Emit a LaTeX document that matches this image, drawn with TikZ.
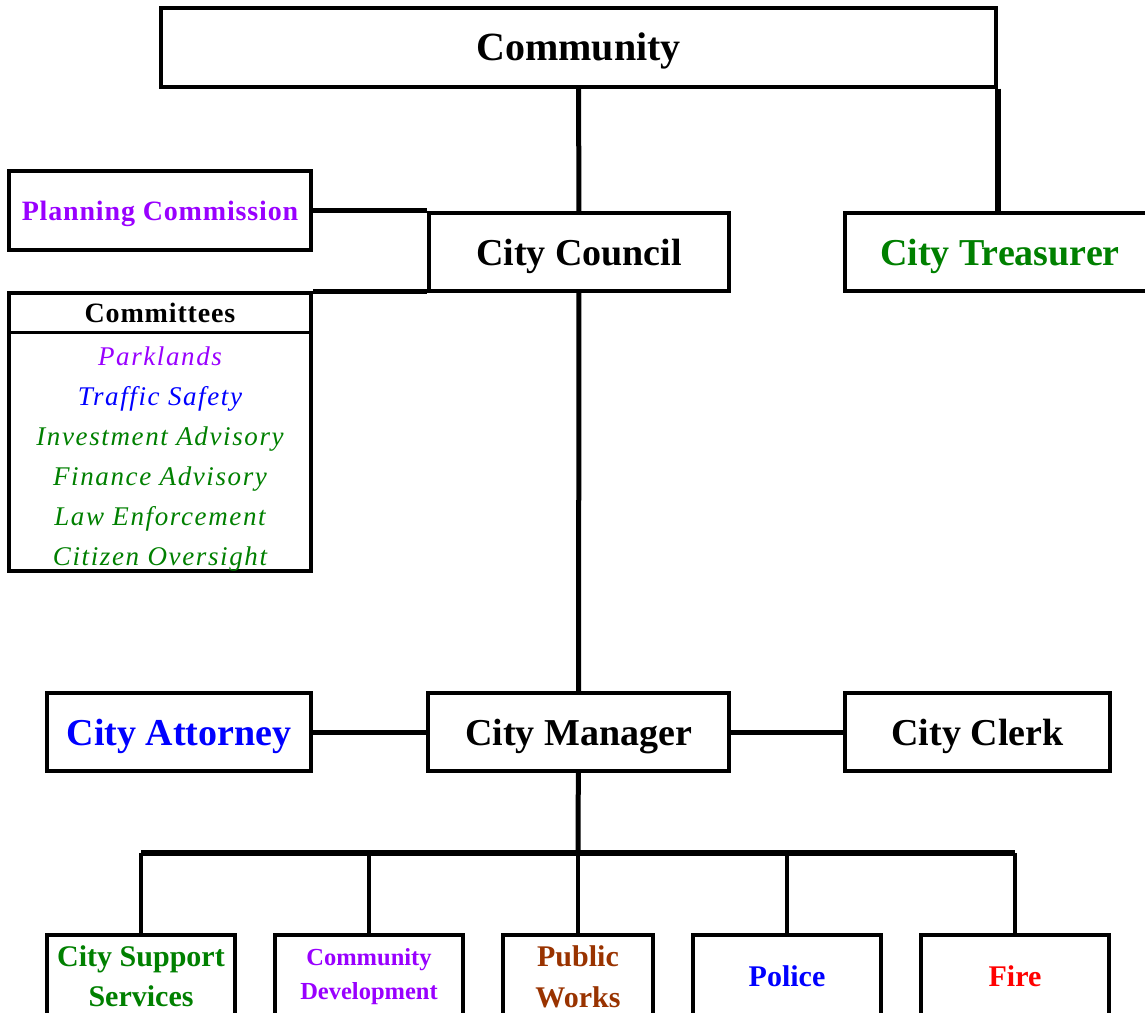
\documentclass[tikz,border=0pt]{standalone}
\usepackage{fontspec}
\setmainfont{Liberation Serif}
\usetikzlibrary{positioning}
\definecolor{grn}{RGB}{0,128,0}
\definecolor{purp}{RGB}{153,0,255}
\definecolor{blu}{RGB}{0,0,255}
\definecolor{brn}{RGB}{153,51,0}
\definecolor{redd}{RGB}{255,0,0}

\begin{document}
\begin{tikzpicture}[x=1pt, y=-1pt,
    box/.style={rectangle, draw=black, line width=4pt, fill=white, align=center,
                inner sep=0pt, font=\bfseries\fontsize{38}{40}\selectfont},
    top/.style={box, minimum height=78pt, text depth=0pt},
    low/.style={box, minimum width=188pt, minimum height=83pt,
                font=\bfseries\fontsize{30}{40}\selectfont},
    item/.style={text depth=0pt,
                 font=\itshape\fontsize{27}{30}\selectfont\addfontfeatures{LetterSpace=6}},
    link/.style={draw=black, line width=5pt}
]
\useasboundingbox (0,0) rectangle (1145,1012);

% top of the chart
\node[top, minimum width=835pt, minimum height=79pt,
      font=\bfseries\fontsize{40}{44}\selectfont] (comm) at (578.5,47) {Community};
\node[top, minimum width=300pt] (council) at (579,252) {City Council};
\node[top, minimum width=310pt, text=grn] (treas) at (1000,252) {City Treasurer};
\node[top, minimum width=302pt, minimum height=79pt,
      font=\bfseries\fontsize{28}{30}\selectfont\addfontfeatures{LetterSpace=3},
      text=purp] (plan) at (160,210.5) {Planning Commission};

% committees list
\node[box, minimum width=302pt, minimum height=278pt] (cmte) at (160,432) {};
\node[font=\bfseries\fontsize{28}{30}\selectfont\addfontfeatures{LetterSpace=3}]
    (cmtehead) at (160,313) {Committees};
\coordinate (div) at (160,332);
\draw[line width=3pt] (cmte.west |- div) -- (cmte.east |- div);
\foreach \txt/\col [count=\i] in {Parklands/purp, Traffic Safety/blu,
    Investment Advisory/grn, Finance Advisory/grn, Law Enforcement/grn,
    Citizen Oversight/grn}
  \node[item, text=\col] (item\i) at (160,316+40*\i) {\txt};

% manager row
\node[top, minimum width=301pt] (mgr) at (578.5,732) {City Manager};
\node[top, minimum width=264pt, text=blu] (atty) at (179,732) {City Attorney};
\node[top, minimum width=265pt] (clerk) at (977.5,732) {City Clerk};

% departments
\node[low, text=grn] (css) at (141,976.5) {City Support\\Services};
\node[low, text=purp, font=\bfseries\fontsize{24.5}{34}\selectfont]
    (cdev) at (369,976.5) {Community\\Development};
\node[low, minimum width=150pt, text=brn, font=\bfseries\fontsize{30}{41}\selectfont]
    (pworks) at (578,976.5) {Public\\Works};
\node[low, text=blu] (police) at (787,976.5) {Police};
\node[low, text=redd] (fire) at (1015,976.5) {Fire};

% connectors
\draw[link] (comm) -- (council);
\draw[link, line width=6pt] (comm.south east) -- (comm.south east |- treas.north);
\draw[link] (plan.east) -- (plan.east -| council.west);
\draw[link] (cmte.north east) -- (cmte.north east -| council.west);
\draw[link] (council) -- (mgr);
\draw[link] (atty) -- (mgr);
\draw[link] (mgr) -- (clerk);
\coordinate (bus) at (578,853);
\draw[link] (mgr) -- (bus);
\draw[link, line width=6pt] (css.north |- bus) -- (fire.north |- bus);
\foreach \n in {css, cdev, pworks, police, fire}
  \draw[link, line width=4pt] (\n.north |- bus) -- (\n.north);
\end{tikzpicture}
\end{document}
